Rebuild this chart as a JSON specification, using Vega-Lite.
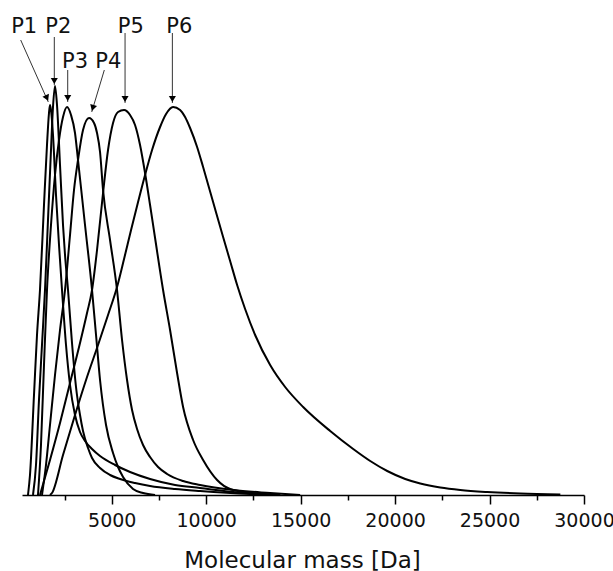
{
  "$schema": "https://vega.github.io/schema/vega-lite/v6.json",
  "autosize": {"type": "none"},
  "width": 562,
  "height": 415,
  "padding": {"left": 22, "top": 80, "right": 29, "bottom": 76},
  "background": "white",
  "config": {"view": {"stroke": null}},
  "datasets": {
    "curves": [
      {"peak":"P1","m":567,"v":0},{"peak":"P1","m":673,"v":20},{"peak":"P1","m":885,"v":100},{"peak":"P1","m":1044,"v":160},{"peak":"P1","m":1202,"v":205},{"peak":"P1","m":1414,"v":290},{"peak":"P1","m":1573,"v":350},{"peak":"P1","m":1679,"v":382},{"peak":"P1","m":1732,"v":390},{"peak":"P1","m":1785,"v":385},{"peak":"P1","m":1891,"v":360},{"peak":"P1","m":2050,"v":300},{"peak":"P1","m":2209,"v":250},{"peak":"P1","m":2368,"v":205},{"peak":"P1","m":2580,"v":150},{"peak":"P1","m":2792,"v":110},{"peak":"P1","m":3056,"v":80},{"peak":"P1","m":3321,"v":63},{"peak":"P1","m":3586,"v":54},{"peak":"P1","m":3957,"v":46},{"peak":"P1","m":4381,"v":39},{"peak":"P1","m":5175,"v":30},{"peak":"P1","m":5970,"v":23},{"peak":"P1","m":7029,"v":16},{"peak":"P1","m":8353,"v":10},{"peak":"P1","m":9677,"v":7},{"peak":"P1","m":11426,"v":3},{"peak":"P1","m":13915,"v":0},
      {"peak":"P2","m":832,"v":0},{"peak":"P2","m":991,"v":30},{"peak":"P2","m":1149,"v":95},{"peak":"P2","m":1308,"v":150},{"peak":"P2","m":1467,"v":205},{"peak":"P2","m":1626,"v":275},{"peak":"P2","m":1785,"v":345},{"peak":"P2","m":1891,"v":388},{"peak":"P2","m":1997,"v":409},{"peak":"P2","m":2103,"v":390},{"peak":"P2","m":2262,"v":330},{"peak":"P2","m":2421,"v":270},{"peak":"P2","m":2527,"v":240},{"peak":"P2","m":2686,"v":205},{"peak":"P2","m":2897,"v":152},{"peak":"P2","m":3109,"v":108},{"peak":"P2","m":3321,"v":80},{"peak":"P2","m":3480,"v":64},{"peak":"P2","m":3745,"v":47},{"peak":"P2","m":3957,"v":37},{"peak":"P2","m":4381,"v":27},{"peak":"P2","m":4910,"v":20},{"peak":"P2","m":5440,"v":16},{"peak":"P2","m":6234,"v":12},{"peak":"P2","m":7029,"v":9},{"peak":"P2","m":8353,"v":6},{"peak":"P2","m":9677,"v":4},{"peak":"P2","m":12326,"v":1},{"peak":"P2","m":13915,"v":0},
      {"peak":"P3","m":1096,"v":0},{"peak":"P3","m":1255,"v":50},{"peak":"P3","m":1414,"v":130},{"peak":"P3","m":1573,"v":205},{"peak":"P3","m":1785,"v":270},{"peak":"P3","m":1997,"v":320},{"peak":"P3","m":2209,"v":355},{"peak":"P3","m":2421,"v":378},{"peak":"P3","m":2633,"v":388},{"peak":"P3","m":2845,"v":380},{"peak":"P3","m":3056,"v":362},{"peak":"P3","m":3215,"v":335},{"peak":"P3","m":3586,"v":270},{"peak":"P3","m":3957,"v":205},{"peak":"P3","m":4169,"v":160},{"peak":"P3","m":4381,"v":115},{"peak":"P3","m":4698,"v":70},{"peak":"P3","m":5069,"v":42},{"peak":"P3","m":5334,"v":28},{"peak":"P3","m":5599,"v":18},{"peak":"P3","m":6128,"v":6},{"peak":"P3","m":6658,"v":2},{"peak":"P3","m":7294,"v":0},
      {"peak":"P4","m":1308,"v":0},{"peak":"P4","m":1520,"v":30},{"peak":"P4","m":1732,"v":70},{"peak":"P4","m":1997,"v":120},{"peak":"P4","m":2262,"v":165},{"peak":"P4","m":2527,"v":205},{"peak":"P4","m":2792,"v":260},{"peak":"P4","m":3003,"v":305},{"peak":"P4","m":3215,"v":335},{"peak":"P4","m":3480,"v":365},{"peak":"P4","m":3798,"v":377},{"peak":"P4","m":4063,"v":372},{"peak":"P4","m":4222,"v":362},{"peak":"P4","m":4381,"v":343},{"peak":"P4","m":4540,"v":305},{"peak":"P4","m":4910,"v":255},{"peak":"P4","m":5281,"v":205},{"peak":"P4","m":5546,"v":155},{"peak":"P4","m":5811,"v":115},{"peak":"P4","m":6076,"v":85},{"peak":"P4","m":6340,"v":66},{"peak":"P4","m":6658,"v":50},{"peak":"P4","m":7029,"v":38},{"peak":"P4","m":7453,"v":28},{"peak":"P4","m":7930,"v":21},{"peak":"P4","m":8777,"v":14},{"peak":"P4","m":9677,"v":10},{"peak":"P4","m":11426,"v":5},{"peak":"P4","m":13386,"v":2},{"peak":"P4","m":14975,"v":0},
      {"peak":"P5","m":1202,"v":0},{"peak":"P5","m":1732,"v":35},{"peak":"P5","m":2262,"v":72},{"peak":"P5","m":2792,"v":112},{"peak":"P5","m":3321,"v":152},{"peak":"P5","m":3692,"v":182},{"peak":"P5","m":3957,"v":205},{"peak":"P5","m":4222,"v":245},{"peak":"P5","m":4540,"v":302},{"peak":"P5","m":4804,"v":345},{"peak":"P5","m":5069,"v":372},{"peak":"P5","m":5334,"v":383},{"peak":"P5","m":5652,"v":385},{"peak":"P5","m":5970,"v":380},{"peak":"P5","m":6234,"v":370},{"peak":"P5","m":6499,"v":350},{"peak":"P5","m":6764,"v":322},{"peak":"P5","m":7029,"v":290},{"peak":"P5","m":7294,"v":257},{"peak":"P5","m":7718,"v":205},{"peak":"P5","m":8088,"v":165},{"peak":"P5","m":8459,"v":122},{"peak":"P5","m":8777,"v":88},{"peak":"P5","m":9307,"v":55},{"peak":"P5","m":9837,"v":35},{"peak":"P5","m":10578,"v":15},{"peak":"P5","m":11267,"v":6},{"peak":"P5","m":12485,"v":2},{"peak":"P5","m":13915,"v":0},
      {"peak":"P6","m":1732,"v":0},{"peak":"P6","m":1838,"v":2},{"peak":"P6","m":2421,"v":40},{"peak":"P6","m":3056,"v":80},{"peak":"P6","m":3692,"v":118},{"peak":"P6","m":4275,"v":150},{"peak":"P6","m":4804,"v":180},{"peak":"P6","m":5281,"v":208},{"peak":"P6","m":5652,"v":236},{"peak":"P6","m":6023,"v":265},{"peak":"P6","m":6394,"v":293},{"peak":"P6","m":6764,"v":320},{"peak":"P6","m":7135,"v":345},{"peak":"P6","m":7559,"v":368},{"peak":"P6","m":7877,"v":381},{"peak":"P6","m":8247,"v":388},{"peak":"P6","m":8618,"v":385},{"peak":"P6","m":8883,"v":378},{"peak":"P6","m":9148,"v":367},{"peak":"P6","m":9519,"v":348},{"peak":"P6","m":9837,"v":328},{"peak":"P6","m":10366,"v":293},{"peak":"P6","m":10896,"v":258},{"peak":"P6","m":11267,"v":234},{"peak":"P6","m":11638,"v":210},{"peak":"P6","m":12061,"v":186},{"peak":"P6","m":12591,"v":160},{"peak":"P6","m":13386,"v":130},{"peak":"P6","m":14180,"v":108},{"peak":"P6","m":15133,"v":88},{"peak":"P6","m":16564,"v":64},{"peak":"P6","m":17783,"v":46},{"peak":"P6","m":18683,"v":34},{"peak":"P6","m":19584,"v":24},{"peak":"P6","m":20536,"v":16},{"peak":"P6","m":21332,"v":11.5},{"peak":"P6","m":22391,"v":7.5},{"peak":"P6","m":23450,"v":5},{"peak":"P6","m":24881,"v":3},{"peak":"P6","m":26629,"v":1.5},{"peak":"P6","m":28748,"v":0.5}
    ],
    "arrows": [
      {"peak":"P1","m":180,"v":455,"m2":1642,"v2":393},
      {"peak":"P2","m":1960,"v":458,"m2":1960,"v2":410},
      {"peak":"P3","m":2670,"v":425,"m2":2670,"v2":393},
      {"peak":"P4","m":4608,"v":425,"m2":3941,"v2":383},
      {"peak":"P5","m":5705,"v":462,"m2":5705,"v2":392},
      {"peak":"P6","m":8210,"v":462,"m2":8210,"v2":392}
    ],
    "heads": [
      {"peak":"P1","m":1570,"v":397},
      {"peak":"P2","m":1960,"v":414},
      {"peak":"P3","m":2670,"v":397},
      {"peak":"P4","m":3995,"v":387},
      {"peak":"P5","m":5705,"v":396},
      {"peak":"P6","m":8210,"v":396}
    ],
    "labels": [
      {"peak":"P1","m":365,"v":462},
      {"peak":"P2","m":2172,"v":462},
      {"peak":"P3","m":3056,"v":427},
      {"peak":"P4","m":4820,"v":427},
      {"peak":"P5","m":6012,"v":462},
      {"peak":"P6","m":8576,"v":462}
    ]
  },
  "encoding": {
    "x": {
      "field": "m", "type": "quantitative",
      "scale": {"domain": [250, 30000], "nice": false, "zero": false},
      "axis": {
        "values": [2500, 5000, 7500, 10000, 12500, 15000, 17500, 20000, 22500, 25000, 27500, 30000],
        "format": "d",
        "labelExpr": "datum.value % 5000 == 0 ? datum.label : ''",
        "tickSize": {"condition": {"test": "datum.value % 5000 != 0", "value": 5}, "value": 9},
        "tickWidth": 1.5, "tickColor": "black",
        "domainColor": "black", "domainWidth": 1.5,
        "grid": false,
        "labelFont": "DejaVu Sans", "labelFontSize": 19, "labelColor": "#111",
        "labelPadding": 7, "labelFlush": false, "labelOverlap": false,
        "title": "Molecular mass [Da]",
        "titleFont": "DejaVu Sans", "titleFontSize": 23, "titleFontWeight": "normal", "titleColor": "#111",
        "titleBaseline": "alphabetic", "titleY": 72, "titleX": 280, "titleAlign": "center"
      }
    },
    "y": {
      "field": "v", "type": "quantitative",
      "scale": {"domain": [0, 415], "nice": false, "zero": true},
      "axis": null
    }
  },
  "layer": [
    {
      "data": {"name": "curves"},
      "mark": {"type": "line", "interpolate": "monotone", "color": "black", "strokeWidth": 2},
      "encoding": {"detail": {"field": "peak"}}
    },
    {
      "data": {"name": "arrows"},
      "mark": {"type": "rule", "color": "#333", "strokeWidth": 1},
      "encoding": {"x2": {"field": "m2"}, "y2": {"field": "v2"}}
    },
    {
      "data": {"name": "heads"},
      "transform": [{"filter": "datum.peak != 'P1' && datum.peak != 'P4'"}],
      "mark": {"type": "point", "shape": "triangle-down", "filled": true, "color": "black", "opacity": 1, "size": 50}
    },
    {
      "data": {"name": "heads"},
      "transform": [{"filter": "datum.peak == 'P1'"}],
      "mark": {"type": "point", "shape": "triangle-down", "filled": true, "color": "black", "opacity": 1, "size": 50, "angle": -24}
    },
    {
      "data": {"name": "heads"},
      "transform": [{"filter": "datum.peak == 'P4'"}],
      "mark": {"type": "point", "shape": "triangle-down", "filled": true, "color": "black", "opacity": 1, "size": 50, "angle": 17}
    },
    {
      "data": {"name": "labels"},
      "mark": {"type": "text", "font": "DejaVu Sans", "fontSize": 21, "color": "#111", "align": "center", "baseline": "alphabetic"},
      "encoding": {"text": {"field": "peak"}}
    }
  ]
}
